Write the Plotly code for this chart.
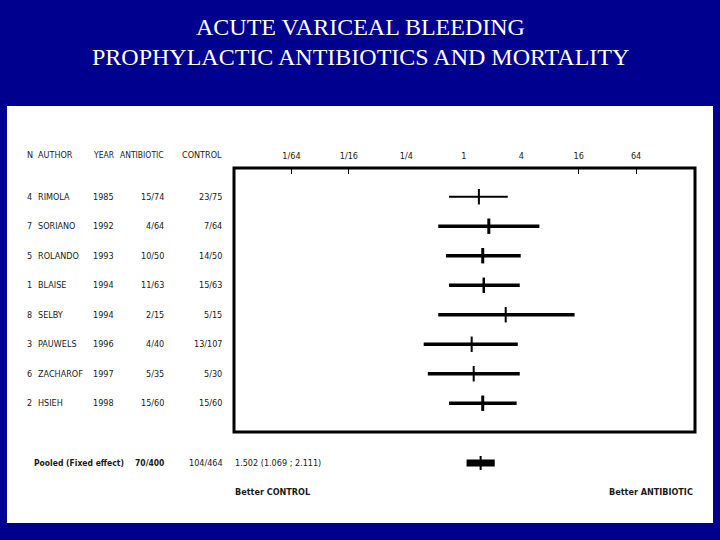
import math
import plotly.graph_objects as go

W, H = 720, 540

# ---- data ----
nums = ["4", "7", "5", "1", "8", "3", "6", "2"]
authors = ["RIMOLA", "SORIANO", "ROLANDO", "BLAISE", "SELBY", "PAUWELS", "ZACHAROF", "HSIEH"]
years = ["1985", "1992", "1993", "1994", "1994", "1996", "1997", "1998"]
antibiotic = ["15/74", "4/64", "10/50", "11/63", "2/15", "4/40", "5/35", "15/60"]
control = ["23/75", "7/64", "14/50", "15/63", "5/15", "13/107", "5/30", "15/60"]
or_est = [1.44, 1.83, 1.58, 1.62, 2.75, 1.21, 1.27, 1.58]
ci_lo = [0.70, 0.54, 0.65, 0.70, 0.54, 0.38, 0.42, 0.70]
ci_hi = [2.89, 6.2, 3.95, 3.86, 14.5, 3.68, 3.86, 3.58]

pooled_label = "Pooled (Fixed effect)"
pooled_antibiotic = "70/400"
pooled_control = "104/464"
pooled_or = 1.502
pooled_lo = 1.069
pooled_hi = 2.111

tick_vals = [1/64, 1/16, 1/4, 1, 4, 16, 64]
tick_text = ["1/64", "1/16", "1/4", "1", "4", "16", "64"]
inner_ticks = [1/64, 1/16, 16, 64]

headers = ["N", "AUTHOR", "YEAR", "ANTIBIOTIC", "CONTROL"]
title_lines = ["ACUTE VARICEAL BLEEDING", "PROPHYLACTIC ANTIBIOTICS AND MORTALITY"]
better_left = "Better CONTROL"
better_right = "Better ANTIBIOTIC"

# ---- styles ----
BLUE = "#00008e"
TXT = "#1a1a1a"
FONT = "DejaVu Sans Condensed, Liberation Sans Narrow, Arial Narrow, Liberation Sans, sans-serif"
line_w = [2, 3.5, 3.5, 3.5, 3.5, 3.5, 3.5, 3.5]
tick_w = [2, 3, 3, 2.5, 2, 2, 2, 3]


def px(x):
    return x / W


def py(y):
    return 1 - y / H


fig = go.Figure()

rows = list(range(len(authors)))
for i in rows:
    fig.add_trace(go.Scatter(
        x=[ci_lo[i], ci_hi[i]], y=[i, i], mode="lines",
        line=dict(color="black", width=line_w[i]),
        xaxis="x", yaxis="y", showlegend=False, hoverinfo="skip"))
    fig.add_trace(go.Scatter(
        x=[or_est[i]], y=[i], mode="markers",
        marker=dict(symbol="line-ns", size=11, color="black",
                    line=dict(color="black", width=tick_w[i])),
        xaxis="x", yaxis="y", showlegend=False, hoverinfo="skip"))

# pooled
fig.add_trace(go.Scatter(
    x=[pooled_lo, pooled_hi], y=[0, 0], mode="lines",
    line=dict(color="black", width=7),
    xaxis="x", yaxis="y2", showlegend=False, hoverinfo="skip"))
fig.add_trace(go.Scatter(
    x=[pooled_or], y=[0], mode="markers",
    marker=dict(symbol="line-ns", size=10, color="black",
                line=dict(color="black", width=2)),
    xaxis="x", yaxis="y2", showlegend=False, hoverinfo="skip"))

# invisible trace for the tick overlay axis
fig.add_trace(go.Scatter(x=[1], y=[0], mode="markers", marker=dict(opacity=0),
                         xaxis="x2", yaxis="y", showlegend=False, hoverinfo="skip"))

xr = [math.log10(2 ** -8.0), math.log10(2 ** 8.05)]
xdom = [px(234), px(695)]

fig.update_layout(
    width=W, height=H,
    margin=dict(l=0, r=0, t=0, b=0),
    paper_bgcolor=BLUE, plot_bgcolor="white",
    xaxis=dict(type="log", range=xr, domain=xdom, side="top", anchor="y",
               tickvals=tick_vals, ticktext=tick_text, ticks="",
               showgrid=False, zeroline=False, showline=False,
               tickfont=dict(family=FONT, size=9, color=TXT),
               ticklabelstandoff=6),
    xaxis2=dict(type="log", range=xr, domain=xdom, side="top", anchor="y",
                overlaying="x", tickvals=inner_ticks, ticks="inside",
                ticklen=6, tickwidth=1, tickcolor="black",
                showticklabels=False, showgrid=False, zeroline=False, showline=False),
    yaxis=dict(domain=[py(432), py(168)], range=[7.974, -0.973],
               showgrid=False, zeroline=False, showline=False,
               showticklabels=False, ticks=""),
    yaxis2=dict(domain=[py(463) - 0.03, py(463) + 0.03], range=[-1, 1],
                anchor="x", showgrid=False, zeroline=False, showline=False,
                showticklabels=False, ticks=""),
)

shapes = [
    # white panel
    dict(type="rect", xref="paper", yref="paper", x0=px(7), x1=px(713),
         y0=py(523), y1=py(106), fillcolor="white", line=dict(width=0), layer="below"),
    # plot box
    dict(type="rect", xref="x domain", yref="y domain", x0=0, x1=1, y0=0, y1=1,
         line=dict(color="black", width=3), fillcolor="rgba(0,0,0,0)"),
]
fig.update_layout(shapes=shapes)

ann = []
# title
for k, t in enumerate(title_lines):
    ann.append(dict(text=t, xref="paper", yref="paper", x=0.5, y=py(27 + 30 * k),
                    xanchor="center", yanchor="middle", showarrow=False,
                    font=dict(family="Liberation Serif, Times New Roman, serif",
                              size=24, color="white")))

fs = 9
hdr_x = [25, 36, 91, 166, 224]
hdr_anchor = ["left", "left", "left", "right", "right"]
hdr_fs = [9, 9, 8.5, 8.5, 9]
for h, x, a, f in zip(headers, hdr_x, hdr_anchor, hdr_fs):
    ann.append(dict(text=h, xref="paper", yref="paper", x=px(x), y=py(155),
                    xanchor=a, yanchor="middle", showarrow=False,
                    font=dict(family=FONT, size=f, color=TXT)))

for i in rows:
    cols = [nums[i], authors[i], years[i], antibiotic[i], control[i]]
    for c, x, a in zip(cols, hdr_x, hdr_anchor):
        ann.append(dict(text=c, xref="paper", yref="y", x=px(x), y=i,
                        xanchor=a, yanchor="middle", showarrow=False,
                        font=dict(family=FONT, size=fs, color=TXT)))

pool_txt = [("<b>" + pooled_label + "</b>", 32, "left", 8.5),
            ("<b>" + pooled_antibiotic + "</b>", 166, "right", 8.5),
            (pooled_control, 225, "right", fs),
            (f"{pooled_or:.3f} ({pooled_lo:.3f} ; {pooled_hi:.3f})", 233, "left", fs)]
for t, x, a, f in pool_txt:
    ann.append(dict(text=t, xref="paper", yref="paper", x=px(x), y=py(463),
                    xanchor=a, yanchor="middle", showarrow=False,
                    font=dict(family=FONT, size=f, color=TXT)))

ann.append(dict(text="<b>" + better_left + "</b>", xref="paper", yref="paper",
                x=px(233), y=py(492), xanchor="left", yanchor="middle", showarrow=False,
                font=dict(family=FONT, size=fs, color=TXT)))
ann.append(dict(text="<b>" + better_right + "</b>", xref="paper", yref="paper",
                x=px(695), y=py(492), xanchor="right", yanchor="middle", showarrow=False,
                font=dict(family=FONT, size=fs, color=TXT)))

fig.update_layout(annotations=ann)

fig.write_html("out.html", config={"displayModeBar": False},
               post_script="document.body.style.margin='0';document.body.style.padding='0';")
